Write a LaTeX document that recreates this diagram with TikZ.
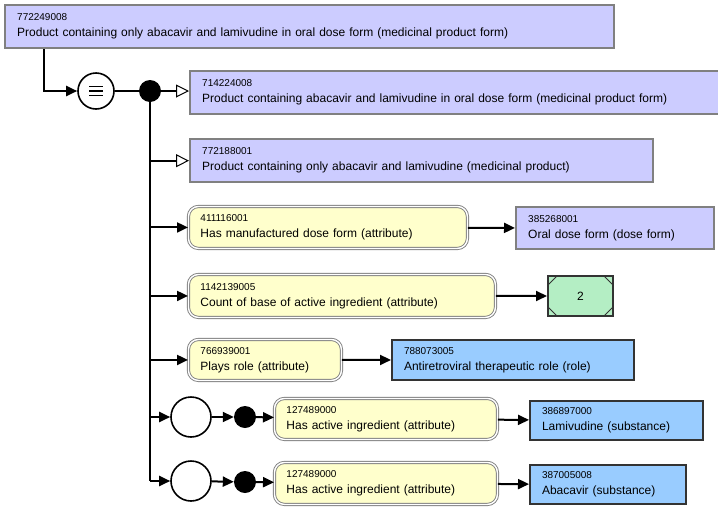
\documentclass[tikz,border=0pt]{standalone}
\usepackage{fontspec}
\setmainfont{Liberation Sans}
\usetikzlibrary{arrows.meta,calc}
\definecolor{snoprim}{HTML}{CCCCFF}
\definecolor{snorole}{HTML}{99CCFF}
\definecolor{snoattr}{HTML}{FFFFCC}
\definecolor{snoval}{HTML}{B4EEC4}
\definecolor{snogray}{HTML}{808080}
\definecolor{snodark}{HTML}{333333}
\newcommand{\sid}[1]{{\fontsize{10}{12}\selectfont #1}}

\begin{document}
\begin{tikzpicture}[
    x=1pt,y=-1pt,
    box/.style    = {rectangle,anchor=north west,align=left,inner xsep=12pt,inner ysep=2pt,
                     font=\fontsize{12}{16}\selectfont},
    prim/.style   = {box,draw=snogray,line width=2.4pt,fill=snoprim},
    role/.style   = {box,draw=snodark,line width=2pt,fill=snorole},
    attr/.style   = {box,rounded corners=10pt,draw=snogray,double=white,double distance=1.4pt,
                     line width=0.9pt,fill=snoattr},
    val/.style    = {rectangle,anchor=north west,draw=snodark,line width=2pt,fill=snoval,
                     minimum width=65pt,minimum height=40pt,font=\fontsize{12}{14}\selectfont,
                     path picture={
                       \draw[snodark,line width=0.8pt]
                         ($(path picture bounding box.north west)+(9pt,0)$) -- ++(-9pt,-9pt)
                         ($(path picture bounding box.north east)+(-9pt,0)$) -- ++(9pt,-9pt)
                         ($(path picture bounding box.south west)+(9pt,0)$) -- ++(-9pt,9pt)
                         ($(path picture bounding box.south east)+(-9pt,0)$) -- ++(9pt,9pt);}},
    eqv/.style    = {circle,draw=black,line width=1.6pt,fill=white,minimum size=36pt,inner sep=0pt,
                     path picture={
                       \foreach \dy in {-4.5,0,4.5}
                         \draw[line width=1.8pt] ($(path picture bounding box.center)+(-7pt,\dy pt)$) -- ++(14pt,0);}},
    grp/.style    = {circle,draw=black,line width=1.6pt,fill=white,minimum size=40pt,inner sep=0pt},
    conj/.style   = {circle,fill=black,minimum size=22pt,inner sep=0pt},
    ln/.style     = {line width=2pt},
    fl/.style     = {-{Triangle[length=11pt,width=10pt]},line width=2pt},
    isa/.style    = {-{Triangle[open,length=13pt,width=13pt,line width=1pt,fill=white]},line width=2pt},
  ]

  \clip (0,0) rectangle (718,512);

  \node[prim,text width=585pt,minimum height=43pt] (top) at (4,4)
    {\sid{772249008}\\Product containing only abacavir and lamivudine in oral dose form (medicinal product form)};

  \node[eqv]  (eq)   at (96,91)  {};
  \node[conj] (and0) at (150,91) {};

  % Parents
  \node[prim,text width=536pt,minimum height=43pt] (p1) at (189,70)
    {\sid{714224008}\\Product containing abacavir and lamivudine in oral dose form (medicinal product form)};
  \node[prim,text width=439pt,minimum height=43pt] (p2) at (189,138)
    {\sid{772188001}\\Product containing only abacavir and lamivudine (medicinal product)};

  % Attributes
  \node[attr,text width=255pt,minimum height=42pt] (a1) at (188,206)
    {\sid{411116001}\\Has manufactured dose form (attribute)};
  \node[prim,text width=174pt,minimum height=42pt] (v1) at (515,206)
    {\sid{385268001}\\Oral dose form (dose form)};

  \node[attr,text width=283pt,minimum height=43pt] (a2) at (188,274)
    {\sid{1142139005}\\Count of base of active ingredient (attribute)};
  \node[val] (v2) at (547,275) {2};

  \node[attr,text width=129pt,minimum height=41pt] (a3) at (188,339)
    {\sid{766939001}\\Plays role (attribute)};
  \node[role,text width=218pt,minimum height=40pt] (v3) at (391,339)
    {\sid{788073005}\\Antiretroviral therapeutic role (role)};

  % Role groups
  \node[grp]  (g1)    at (191,417) {};
  \node[conj] (and1)  at (245,417) {};
  \node[attr,text width=199pt,minimum height=41pt] (a4) at (274,398)
    {\sid{127489000}\\Has active ingredient (attribute)};
  \node[role,text width=149pt,minimum height=39pt] (v4) at (529,400)
    {\sid{386897000}\\Lamivudine (substance)};

  \node[grp]  (g2)    at (191,481) {};
  \node[conj] (and2)  at (245,482) {};
  \node[attr,text width=199pt,minimum height=42pt] (a5) at (274,462)
    {\sid{127489000}\\Has active ingredient (attribute)};
  \node[role,text width=132pt,minimum height=39pt] (v5) at (529,464)
    {\sid{387005008}\\Abacavir (substance)};

  \draw[fl]  ([xshift=40pt]top.south west) |- (eq);
  \draw[ln]  (eq) -- (and0);
  \draw[isa] (and0) -- (and0 -| p1.west);
  \draw[ln]  (and0) -- (and0 |- g2);
  \draw[isa] (and0 |- p2) -- (p2);
  \draw[fl]  (and0 |- a1) -- (a1);
  \draw[fl]  (and0 |- a2) -- (a2);
  \draw[fl]  (and0 |- a3) -- (a3);
  \draw[fl]  (and0 |- g1) -- (g1);
  \draw[fl]  (and0 |- g2) -- (g2);

  \draw[fl] (a1) -- (v1);
  \draw[fl] (a2) -- (v2);
  \draw[fl] (a3) -- (v3);

  \draw[fl] (g1) -- (and1);
  \draw[fl] (and1) -- (a4);
  \draw[fl] (a4) -- (v4);
  \draw[fl] (g2) -- (and2);
  \draw[fl] (and2) -- (a5);
  \draw[fl] (a5) -- (v5);

\end{tikzpicture}
\end{document}
